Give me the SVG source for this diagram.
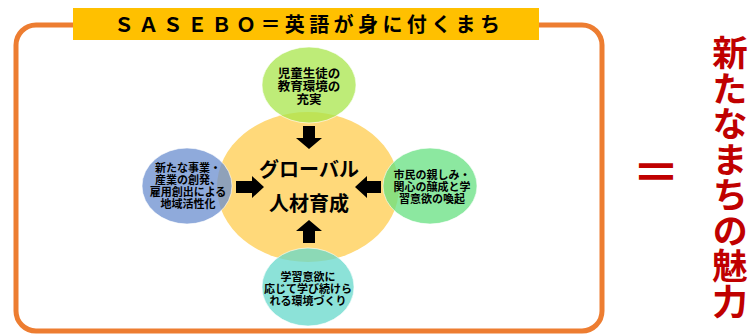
<svg xmlns="http://www.w3.org/2000/svg" width="755" height="334" viewBox="0 0 755 334">
<style>
text{font-family:"Noto Sans CJK JP","Noto Sans",sans-serif;font-weight:bold;fill:#000;text-anchor:middle}
.s{font-size:11px}
.t{font-size:12.5px}
.c{font-size:20px}
.o{fill-opacity:0.75;stroke:#fff;stroke-opacity:0.6;stroke-width:1}
.a{fill:#000}
</style>
<rect width="755" height="334" fill="#fff"/>
<g id="frame">
<rect x="16" y="25" width="586" height="306" rx="20" fill="none" stroke="#ED7D31" stroke-width="5"/>
</g>
<g id="title">
<rect x="73" y="8" width="466" height="32" fill="#FFC000"/>
<text x="307" y="32" font-size="20" textLength="386" lengthAdjust="spacing">ＳＡＳＥＢＯ＝英語が身に付くまち</text>
</g>
<g id="center">
<ellipse cx="308" cy="187" rx="91" ry="75" fill="#FFD97A"/>
</g>
<g id="top">
<ellipse class="o" cx="309" cy="85" rx="47" ry="38" fill="#A8E64B"/>
<text class="t" x="309" y="78">児童生徒の<tspan x="309" dy="13">教育環境の</tspan><tspan x="309" dy="13">充実</tspan></text>
</g>
<g id="left">
<ellipse class="o" cx="187" cy="186" rx="45" ry="38" fill="#6A8ECF"/>
<text class="s" x="188" y="172">新たな事業・<tspan x="188" dy="12">産業の創発、</tspan><tspan x="188" dy="12">雇用創出による</tspan><tspan x="188" dy="12">地域活性化</tspan></text>
</g>
<g id="right">
<ellipse class="o" cx="430" cy="186" rx="47" ry="38" fill="#66E080"/>
<text class="s" x="432" y="179">市民の親しみ・<tspan x="432" dy="12">関心の醸成と学</tspan><tspan x="432" dy="12">習意欲の喚起</tspan></text>
</g>
<g id="bottom">
<ellipse class="o" cx="308" cy="287" rx="46" ry="39" fill="#66D8CB"/>
<text class="s" x="308" y="281">学習意欲に<tspan x="308" dy="12">応じて学び続けら</tspan><tspan x="308" dy="12">れる環境づくり</tspan></text>
</g>
<g id="core-label">
<text class="c" x="309" y="177">グローバル</text>
<text class="c" x="309" y="211">人材育成</text>
</g>
<g id="connectors">
<polygon class="a" points="303,126 315,126 315,138 322,138 309,149 296,138 303,138"/>
<polygon class="a" points="303,243 315,243 315,231 322,231 309,220 296,231 303,231"/>
<polygon class="a" points="236,181 252,181 252,176 264,187 252,198 252,193 236,193"/>
<polygon class="a" points="381,181 367,181 367,176 355,187 367,198 367,193 381,193"/>
</g>
<g id="result">
<text x="656" y="190" style="fill:#C00000;font-size:48px">＝</text>
<text x="730" y="35" style="fill:#C00000;font-size:35.5px;writing-mode:vertical-rl;text-anchor:start">新たなまちの魅力</text>
</g>
</svg>
